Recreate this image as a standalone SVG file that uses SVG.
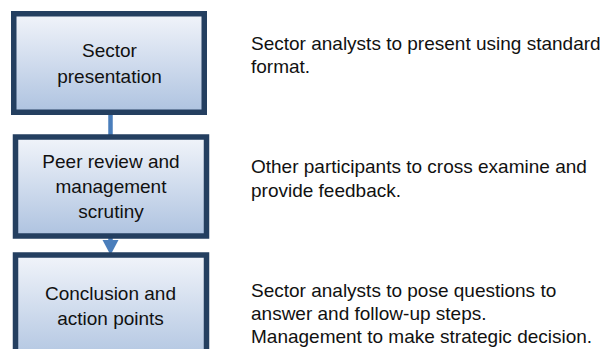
<svg xmlns="http://www.w3.org/2000/svg" width="610" height="349" viewBox="0 0 610 349">
<defs>
<linearGradient id="g" x1="0" y1="0" x2="0" y2="1">
<stop offset="0" stop-color="#f1f4fa"/>
<stop offset="1" stop-color="#aec3e0"/>
</linearGradient>
</defs>
<style>
.box{fill:url(#g);stroke:#243f60;stroke-width:5.5}
.t{font-family:"Liberation Sans",Arial,sans-serif;font-size:19px;fill:#111}
.c{text-anchor:middle}
.conn{stroke:#4a7ebb;stroke-width:4.5;fill:none}
</style>
<rect width="610" height="349" fill="#fff"/>
<g id="connectors">
<line class="conn" x1="110.5" y1="114" x2="110.5" y2="136"/>
<line class="conn" x1="110.5" y1="237" x2="110.5" y2="243"/>
<polygon points="102.5,240 118.5,240 110.5,255" fill="#4a7ebb"/>
</g>
<g id="n1">
<rect class="box" x="13.75" y="13.75" width="190.5" height="98.5"/>
<text class="t c" x="109.5" y="57">Sector</text>
<text class="t c" x="109.5" y="83">presentation</text>
</g>
<g id="n2">
<rect class="box" x="15.5" y="137" width="191" height="99"/>
<text class="t c" x="111" y="168">Peer review and</text>
<text class="t c" x="111" y="193">management</text>
<text class="t c" x="111" y="218">scrutiny</text>
</g>
<g id="n3">
<rect class="box" x="15.5" y="255" width="191" height="110"/>
<text class="t c" x="110.5" y="300">Conclusion and</text>
<text class="t c" x="110.5" y="325">action points</text>
</g>
<g id="d1">
<text class="t" x="251" y="50">Sector analysts to present using standard</text>
<text class="t" x="251" y="73">format.</text>
</g>
<g id="d2">
<text class="t" x="251" y="173">Other participants to cross examine and</text>
<text class="t" x="251" y="196.5">provide feedback.</text>
</g>
<g id="d3">
<text class="t" x="251" y="296.5">Sector analysts to pose questions to</text>
<text class="t" x="251" y="320">answer and follow-up steps.</text>
<text class="t" x="251" y="342.5">Management to make strategic decision.</text>
</g>
</svg>
